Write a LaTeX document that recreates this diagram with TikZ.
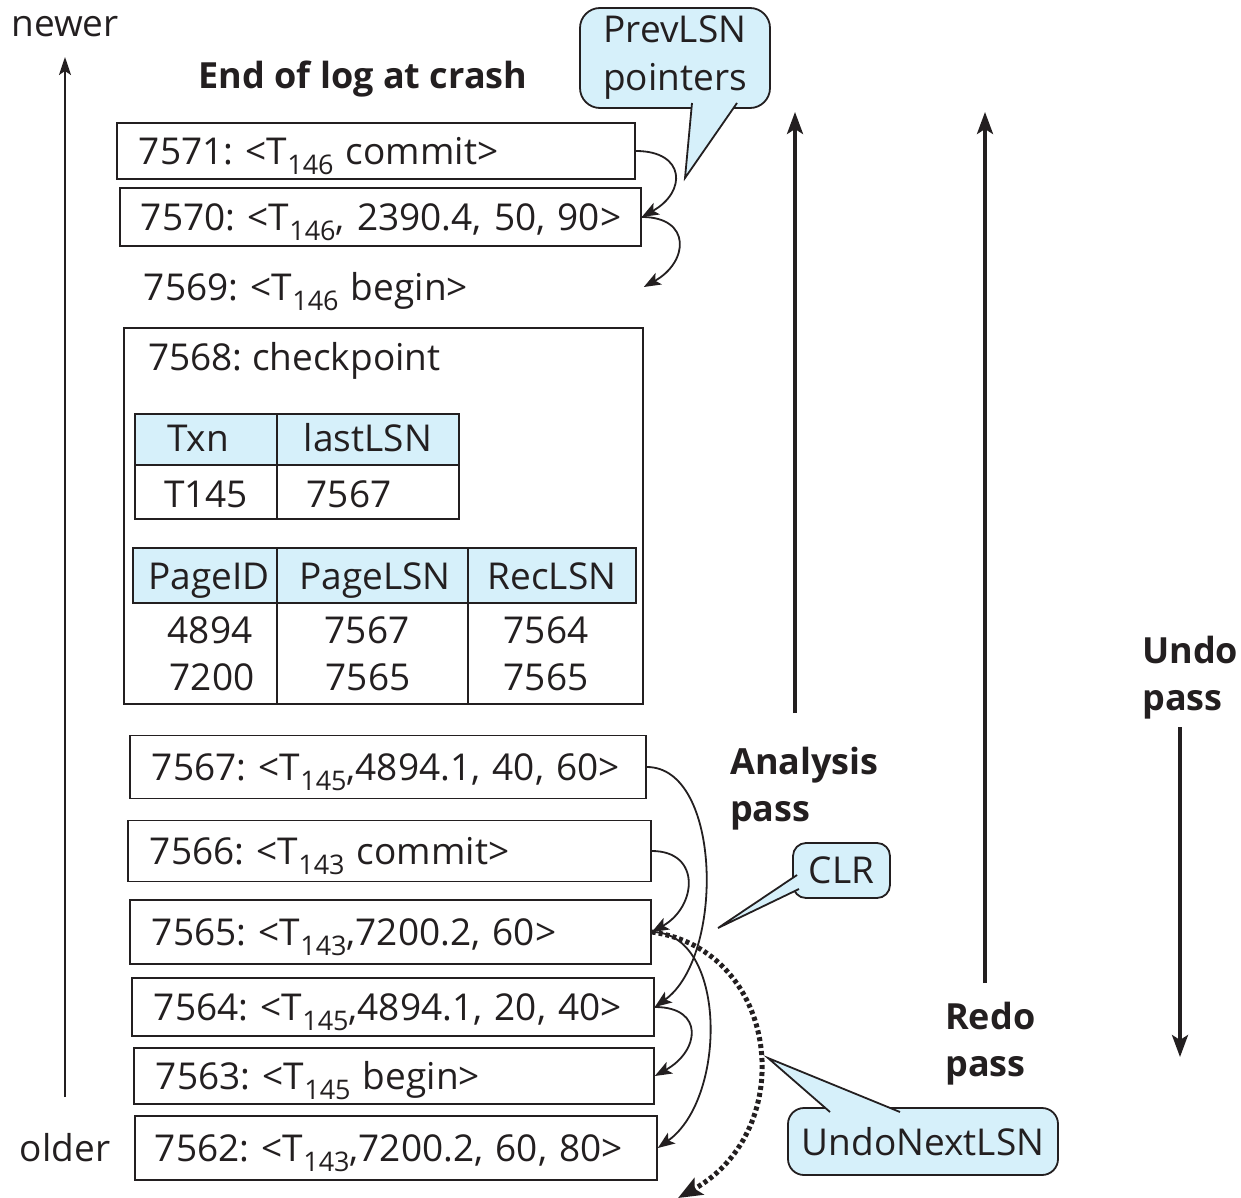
\documentclass[tikz,border=0pt]{standalone}
\usepackage{fontspec}
\setmainfont{Open Sans}
\usetikzlibrary{arrows.meta}
\definecolor{callblue}{RGB}{214,240,250}
\definecolor{ink}{RGB}{35,31,32}
\newcommand\lsub[1]{\raisebox{-0.27em}{\fontsize{27}{27}\selectfont #1}}
\frenchspacing
\hbadness=10000 \hfuzz=200pt
\begin{document}
\begin{tikzpicture}[x=1pt,y=-1pt,
  font=\fontsize{37}{44}\selectfont, text=ink,
  logbox/.style={draw=ink, line width=1.8pt, inner xsep=22pt, inner ysep=0pt, align=left, anchor=west, text height=27pt, text depth=0pt},
  plain/.style={inner sep=0pt, text height=27pt, text depth=0pt},
  boldlbl/.style={font=\fontsize{36}{47}\selectfont\bfseries, align=left, anchor=north west, inner sep=0pt},
  callbox/.style={draw=ink, fill=callblue, line width=1.8pt, rounded corners=20pt, align=center, font=\fontsize{37}{48}\selectfont, inner sep=0pt},
  calltail/.style={fill=callblue, draw=ink, line width=1.8pt, line join=miter},
  ptr/.style={draw=ink, line width=1.8pt, -{Stealth[length=17pt,width=13pt,inset=4pt]}},
  passarrow/.style={draw=ink, line width=3.5pt, -{Stealth[length=22pt,width=16pt,inset=5pt]}},
  axis/.style={draw=ink, line width=2pt, -{Stealth[length=18pt,width=12pt,inset=4pt]}},
  tline/.style={draw=ink, line width=1.8pt}
]
\useasboundingbox (0,0) rectangle (1241,1198);

% left axis
\node[plain, text height=20pt] (newer) at (65,27) {newer};
\node[plain] (older) at (65,1148) {older};
\coordinate (axb) at (65,1097);
\coordinate (axt) at (65,57);
\draw[axis] (axb) -- (axt);

\node[plain, font=\fontsize{36}{41}\selectfont\bfseries] (eol) at (363,75) {End of log at crash};

% log records (top)
\node[logbox, text width=474pt, minimum height=56pt] (b7571) at (116,151) {\mbox{7571: <T\lsub{146} commit>}};
\node[logbox, inner xsep=21pt, text width=479pt, minimum height=58pt] (b7570) at (119,217) {\mbox{7570: <T\lsub{146}, 2390.4, 50, 90>}};
\node[logbox, draw=none, text width=477pt, minimum height=56pt] (b7569) at (121,287) {\mbox{7569: <T\lsub{146} begin>}};

% checkpoint
\draw[tline] (124,328) rectangle (643,704);
\node[plain, anchor=west] (ckpt) at (148,357) {7568: checkpoint};
% txn table
\fill[callblue] (135,414) rectangle (459,465);
\draw[tline] (135,414) rectangle (459,519);
\draw[tline] (135,465) -- (459,465);
\draw[tline] (277,414) -- (277,519);
\node[plain] (txnh) at (198,438) {Txn};
\node[plain] (lasth) at (368,438) {lastLSN};
\node[plain] (txnv) at (206,494) {T145};
\node[plain] (lastv) at (349,494) {7567};
% page table
\fill[callblue] (133,548) rectangle (636,603);
\draw[tline] (133,548) rectangle (636,603);
\draw[tline] (277,548) -- (277,704);
\draw[tline] (468,548) -- (468,704);
\node[plain] (pgh) at (209,576) {PageID};
\node[plain] (plh) at (375,576) {PageLSN};
\node[plain] (rlh) at (552,576) {RecLSN};
\node[plain] (pg1) at (210,630) {4894};
\node[plain] (pl1) at (367,630) {7567};
\node[plain] (rl1) at (546,630) {7564};
\node[plain] (pg2) at (212,677) {7200};
\node[plain] (pl2) at (368,677) {7565};
\node[plain] (rl2) at (546,677) {7565};

% log records (bottom)
\node[logbox, text width=472pt, minimum height=63pt] (b7567) at (129,767) {\mbox{7567: <T\lsub{145},4894.1, 40, 60>}};
\node[logbox, text width=479pt, minimum height=61pt] (b7566) at (127,851) {\mbox{7566: <T\lsub{143} commit>}};
\node[logbox, text width=477pt, minimum height=64pt] (b7565) at (129,932) {\mbox{7565: <T\lsub{143},7200.2, 60>}};
\node[logbox, text width=478pt, minimum height=58pt] (b7564) at (131,1007) {\mbox{7564: <T\lsub{145},4894.1, 20, 40>}};
\node[logbox, text width=476pt, minimum height=56pt] (b7563) at (133,1076) {\mbox{7563: <T\lsub{145} begin>}};
\node[logbox, inner xsep=20pt, text width=482pt, minimum height=64pt] (b7562) at (134,1148) {\mbox{7562: <T\lsub{143},7200.2, 60, 80>}};

% prevLSN pointers
\draw[ptr] (b7571.east) .. controls +(50,0) and +(45,-25) .. (b7570.east);
\draw[ptr] (b7570.east) .. controls +(50,0) and +(45,-25) .. (b7569.east);
\draw[ptr] (b7567.east) .. controls +(75,0) and +(70,-50) .. (b7564.east);
\draw[ptr] (b7566.east) .. controls +(50,0) and +(45,-25) .. (b7565.east);
\draw[ptr] (b7565.east) .. controls +(75,0) and +(70,-50) .. (b7562.east);
\draw[ptr] (b7564.east) .. controls +(50,0) and +(45,-25) .. (b7563.east);

% UndoNextLSN dotted pointer
\coordinate (dotend) at (678,1198);
\draw[draw=ink, line width=5pt, dash pattern=on 4pt off 3pt, -{Stealth[length=24pt,width=19pt,inset=5pt]}]
  (b7565.east) .. controls (780,950) and (800,1130) .. (dotend);

% pass arrows
\coordinate (anb) at (795,713);
\coordinate (ant) at (795,112);
\draw[passarrow] (anb) -- (ant);
\node[boldlbl] (analysis) at (730,747) {Analysis\\pass};
\coordinate (rdb) at (985,983);
\coordinate (rdt) at (985,112);
\draw[passarrow] (rdb) -- (rdt);
\node[boldlbl] (redo) at (945,1002) {Redo\\pass};
\coordinate (udt) at (1180,727);
\coordinate (udb) at (1180,1057);
\draw[passarrow] (udt) -- (udb);
\node[boldlbl] (undo) at (1142,636) {Undo\\pass};

% callouts
\node[callbox, minimum width=190pt, minimum height=100pt] (prev) at (675,58) {PrevLSN\\pointers};
\coordinate (pa) at (692,103);
\coordinate (ptip) at (685,178);
\coordinate (pb) at (737,103);
\path[calltail] (pa) -- (ptip) -- (pb);

\node[callbox, rounded corners=13pt, minimum width=97pt, minimum height=55pt] (clr) at (841.5,870.5) {CLR};
\coordinate (ca) at (797,875);
\coordinate (ctip) at (718,928);
\coordinate (cb) at (799,889);
\path[calltail] (ca) -- (ctip) -- (cb);

\node[callbox, rounded corners=16pt, minimum width=270pt, minimum height=67pt] (unl) at (923,1141.5) {UndoNextLSN};
\coordinate (ua) at (830,1112);
\coordinate (utip) at (768,1058);
\coordinate (ub) at (900,1112);
\path[calltail] (ua) -- (utip) -- (ub);
\end{tikzpicture}
\end{document}
